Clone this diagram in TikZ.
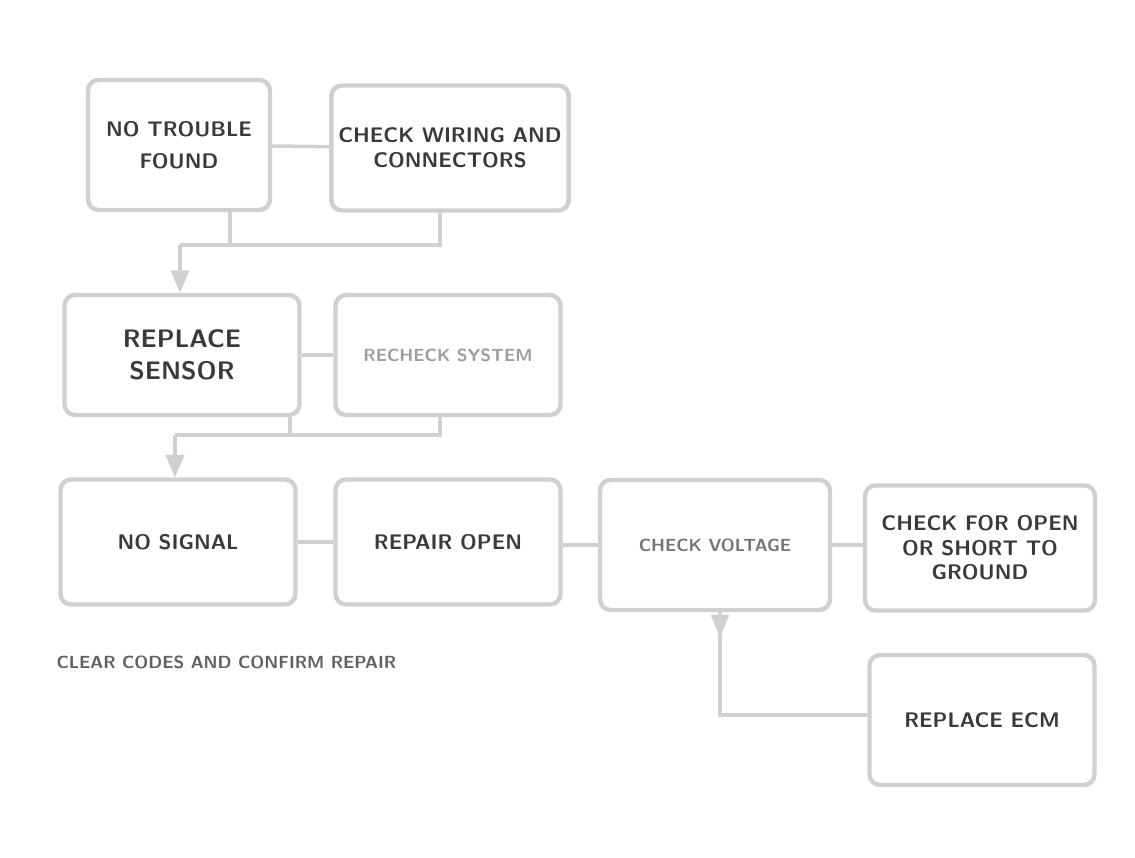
\documentclass[tikz,border=0pt]{standalone}
\usepackage{tikz}
\usetikzlibrary{arrows,shapes,positioning,calc}
\tikzset{every picture/.style={/utils/exec={\sffamily}}}
\definecolor{box-edge}{HTML}{D0D0D0}
\definecolor{box-text}{HTML}{3A3A3A}

\begin{document}
\begin{tikzpicture}[x=0.02cm, y=-0.02cm, thick,
    chartbox/.style={draw=box-edge, line width=2.5pt, rounded corners=6pt, align=center,
        text=box-text, font=\large\bfseries, inner sep=4pt},
    link/.style={draw=box-edge, line width=2pt}]
    \useasboundingbox (0,0) rectangle (1135,858);

    \node[chartbox, minimum width=3.64cm, minimum height=2.6cm] (ok) at (179, 145) {NO TROUBLE\\[4pt] FOUND};
    \node[chartbox, minimum width=4.6cm, minimum height=2.5cm] (wiring) at (450, 148) {CHECK WIRING AND\\ CONNECTORS};
    \node[chartbox, minimum width=4.7cm, minimum height=2.4cm, font=\Large\bfseries] (sensor) at (182, 355) {REPLACE\\ SENSOR};
    \node[chartbox, minimum width=4.5cm, minimum height=2.4cm, text=box-text!50, font=\normalsize\bfseries] (recheck) at (448, 355) {RECHECK SYSTEM};

    \node[chartbox, minimum width=4.7cm, minimum height=2.5cm] (signal) at (178, 542) {NO SIGNAL};
    \node[chartbox, minimum width=4.5cm, minimum height=2.5cm] (repair) at (448, 542) {REPAIR OPEN};
    \node[chartbox, minimum width=4.6cm, minimum height=2.6cm, text=box-text!70, font=\normalsize\bfseries] (voltage) at (715, 545) {CHECK VOLTAGE};
    \node[chartbox, minimum width=4.6cm, minimum height=2.5cm] (short) at (980, 548) {CHECK FOR OPEN\\ OR SHORT TO\\ GROUND};
    \node[chartbox, minimum width=4.5cm, minimum height=2.6cm] (ecm) at (982, 720) {REPLACE ECM};

    \node[text=box-text!80, font=\normalsize\bfseries, anchor=west] (note) at (50, 662) {CLEAR CODES AND CONFIRM REPAIR};

    % row 1 to row 2
    \draw[link] (ok) -- (wiring);
    \coordinate (okdown) at (230, 245) ;
    \coordinate (wiringdown) at (440, 245) ;
    \coordinate (join1) at (180, 245) ;
    \draw[link] (ok.south -| okdown) -- (okdown);
    \draw[link] (wiring.south -| wiringdown) -- (wiringdown) -- (join1);
    \draw[link, -triangle 45] (join1) -- (join1 |- sensor.north);

    % row 2 to row 3
    \draw[link] (sensor) -- (recheck);
    \coordinate (sensordown) at (290, 435) ;
    \coordinate (recheckdown) at (440, 435) ;
    \coordinate (join2) at (175, 435) ;
    \draw[link] (sensor.south -| sensordown) -- (sensordown);
    \draw[link] (recheck.south -| recheckdown) -- (recheckdown) -- (join2);
    \draw[link, -triangle 45] (join2) -- (join2 |- signal.north);

    % row 3
    \draw[link] (signal) -- (repair);
    \draw[link] (repair.east |- voltage) -- (voltage);
    \draw[link] (voltage) -- (short.west |- voltage);

    % to last box
    \coordinate (bend) at (720, 715) ;
    \draw[link, -triangle 45] (voltage.south -| bend) -- ++(0, 25);
    \draw[link] (voltage.south -| bend) -- (bend) -- (bend -| ecm.west);

\end{tikzpicture}
\end{document}
